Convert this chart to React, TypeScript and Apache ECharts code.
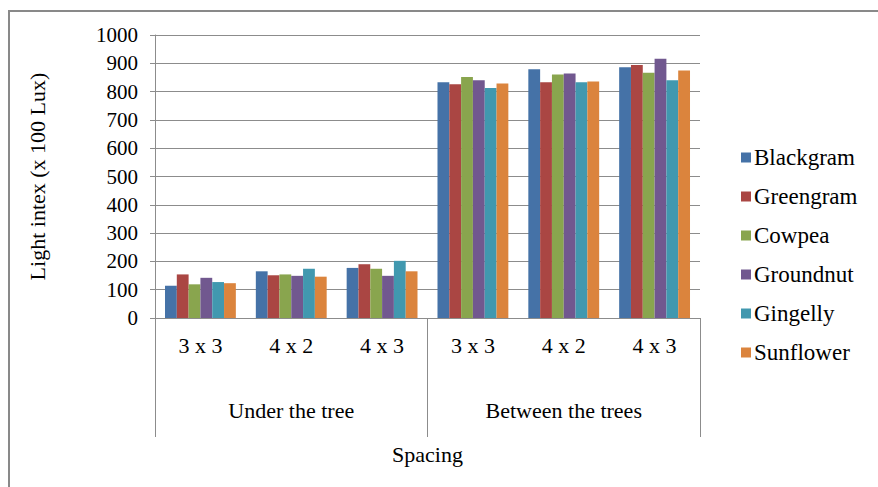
import React, { useEffect, useRef } from "react";
import * as echarts from "echarts";

const spacings = ["3 x 3", "4 x 2", "4 x 3", "3 x 3", "4 x 2", "4 x 3"];
const locations = ["Under the tree", "Between the trees"];
const seriesNames = ["Blackgram", "Greengram", "Cowpea", "Groundnut", "Gingelly", "Sunflower"];
const blackgram = [114, 165, 177, 833, 879, 886];
const greengram = [154, 151, 190, 826, 833, 894];
const cowpea = [119, 154, 174, 852, 860, 867];
const groundnut = [142, 149, 149, 840, 864, 916];
const gingelly = [127, 174, 202, 813, 833, 840];
const sunflower = [123, 146, 165, 829, 836, 875];
const seriesValues = [blackgram, greengram, cowpea, groundnut, gingelly, sunflower];
const colors = ["#4572A7", "#AA4643", "#89A54E", "#71588F", "#4198AF", "#DB843D"];

const FONT = "'Liberation Serif', 'Times New Roman', serif";

export default function App() {
  const ref = useRef<HTMLDivElement>(null);
  useEffect(() => {
    if (!ref.current) return;
    const chart = echarts.init(ref.current, undefined, { renderer: "svg" });
    chart.setOption({
      animation: false,
      backgroundColor: "#ffffff",
      textStyle: { fontFamily: FONT, color: "#000" },
      graphic: [
        {
          type: "rect",
          shape: { x: 9, y: 11, width: 900, height: 500 },
          style: { fill: "none", stroke: "#898989", lineWidth: 2 },
        },
      ],
      grid: { left: 155, right: 178, top: 35, bottom: 169, containLabel: false },
      legend: {
        orient: "vertical",
        left: 736,
        top: 141,
        itemWidth: 10,
        itemHeight: 10,
        itemGap: 16,
        icon: "rect",
        data: seriesNames,
        textStyle: { fontFamily: FONT, fontSize: 23, color: "#000", padding: [0, 0, 0, -2] },
      },
      xAxis: [
        {
          type: "category",
          data: spacings,
          position: "bottom",
          axisLine: { show: true, lineStyle: { color: "#8c8c8c", width: 1 } },
          axisTick: { show: false },
          axisLabel: { fontFamily: FONT, fontSize: 22, color: "#000", margin: 16, interval: 0 },
          name: "Spacing",
          nameLocation: "middle",
          nameGap: 125,
          nameTextStyle: { fontFamily: FONT, fontSize: 22, color: "#000", verticalAlign: "top" },
        },
        {
          type: "category",
          data: locations,
          position: "bottom",
          offset: 0,
          axisLine: { show: false },
          axisTick: { show: true, length: 119, interval: 0, lineStyle: { color: "#8c8c8c", width: 1 } },
          axisLabel: { fontFamily: FONT, fontSize: 22, color: "#000", margin: 81, interval: 0 },
        },
      ],
      yAxis: {
        type: "value",
        min: 0,
        max: 1000,
        interval: 100,
        name: "Light intex (x 100 Lux)",
        nameLocation: "middle",
        nameGap: 107,
        nameTextStyle: { fontFamily: FONT, fontSize: 22, color: "#000" },
        axisLine: { show: true, lineStyle: { color: "#8c8c8c", width: 1 } },
        axisTick: { show: true, length: 5, lineStyle: { color: "#8c8c8c" } },
        axisLabel: {
          fontFamily: FONT,
          fontSize: 21,
          color: "#000",
          margin: 17,
          formatter: (v: number) => String(v),
        },
        splitLine: { show: true, lineStyle: { color: "#8c8c8c", width: 1 } },
      },
      series: seriesNames.map((name, i) => ({
        name,
        type: "bar",
        xAxisIndex: 0,
        data: seriesValues[i],
        barGap: "0%",
        barCategoryGap: "22%",
        itemStyle: { color: colors[i] },
      })),
    });
    return () => chart.dispose();
  }, []);
  return (
    <div
      ref={ref}
      style={{ position: "fixed", left: 0, top: 0, width: 878, height: 487 }}
    />
  );
}
